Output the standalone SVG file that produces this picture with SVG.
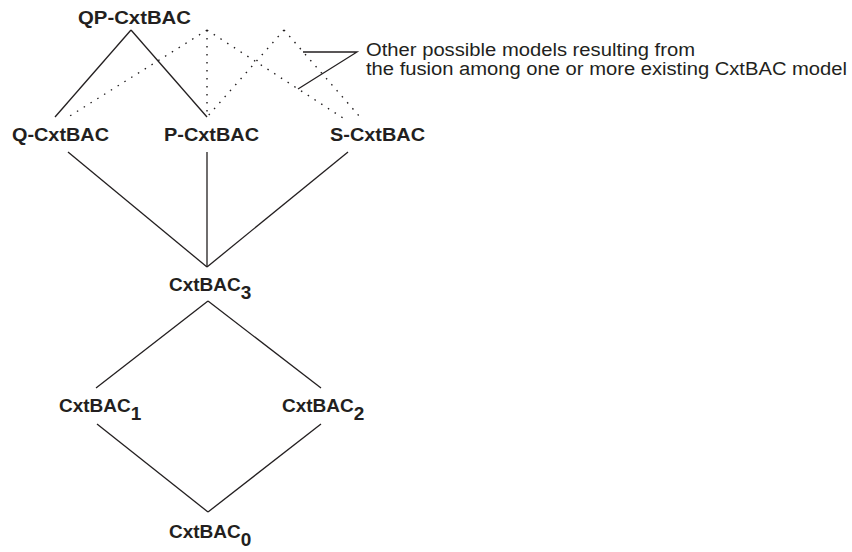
<svg xmlns="http://www.w3.org/2000/svg" width="852" height="552" viewBox="0 0 852 552">
<style>
.lbl{font-family:"Liberation Sans",Arial,sans-serif;font-weight:bold;font-size:19px;fill:#231f20}
.note{font-family:"Liberation Sans",Arial,sans-serif;font-size:18px;fill:#231f20}
.solid{stroke:#231f20;stroke-width:1.3;fill:none}
.dot{stroke:#231f20;stroke-width:1.4;fill:none;stroke-dasharray:1.5 6.5}
</style>
<rect width="852" height="552" fill="#ffffff"/>
<g id="connectors">
<line class="solid" x1="131" y1="30" x2="55" y2="117"/>
<line class="solid" x1="131" y1="30" x2="207" y2="117"/>
<line class="dot" x1="207" y1="30" x2="65" y2="119"/>
<line class="dot" x1="207" y1="30" x2="207" y2="117"/>
<line class="dot" x1="207" y1="30" x2="343" y2="118"/>
<line class="dot" x1="284" y1="30" x2="207" y2="117"/>
<line class="dot" x1="284" y1="30" x2="360" y2="117"/>
<polyline class="solid" points="303,52 357,52 298,89"/>
<line class="solid" x1="68" y1="152" x2="207" y2="267"/>
<line class="solid" x1="207" y1="152" x2="207" y2="267"/>
<line class="solid" x1="348" y1="152" x2="207" y2="267"/>
<line class="solid" x1="208" y1="301" x2="96" y2="388"/>
<line class="solid" x1="208" y1="301" x2="321" y2="388"/>
<line class="solid" x1="97" y1="424" x2="208" y2="512"/>
<line class="solid" x1="321" y1="424" x2="208" y2="512"/>
</g>
<g id="qp"><text class="lbl" x="78" y="24" textLength="113" lengthAdjust="spacingAndGlyphs">QP-CxtBAC</text></g>
<g id="q"><text class="lbl" x="12" y="141" textLength="97" lengthAdjust="spacingAndGlyphs">Q-CxtBAC</text></g>
<g id="p"><text class="lbl" x="164" y="141" textLength="95" lengthAdjust="spacingAndGlyphs">P-CxtBAC</text></g>
<g id="s"><text class="lbl" x="330" y="141" textLength="95" lengthAdjust="spacingAndGlyphs">S-CxtBAC</text></g>
<g id="c3"><text class="lbl" x="169" y="291">CxtBAC<tspan dy="8">3</tspan></text></g>
<g id="c1"><text class="lbl" x="59" y="412">CxtBAC<tspan dy="8">1</tspan></text></g>
<g id="c2"><text class="lbl" x="282" y="412">CxtBAC<tspan dy="8">2</tspan></text></g>
<g id="c0"><text class="lbl" x="169" y="538">CxtBAC<tspan dy="8">0</tspan></text></g>
<g id="note"><text class="note" x="366" y="56" textLength="329" lengthAdjust="spacingAndGlyphs">Other possible models resulting from</text><text class="note" x="366" y="75" textLength="481" lengthAdjust="spacingAndGlyphs">the fusion among one or more existing CxtBAC model</text></g>
</svg>
